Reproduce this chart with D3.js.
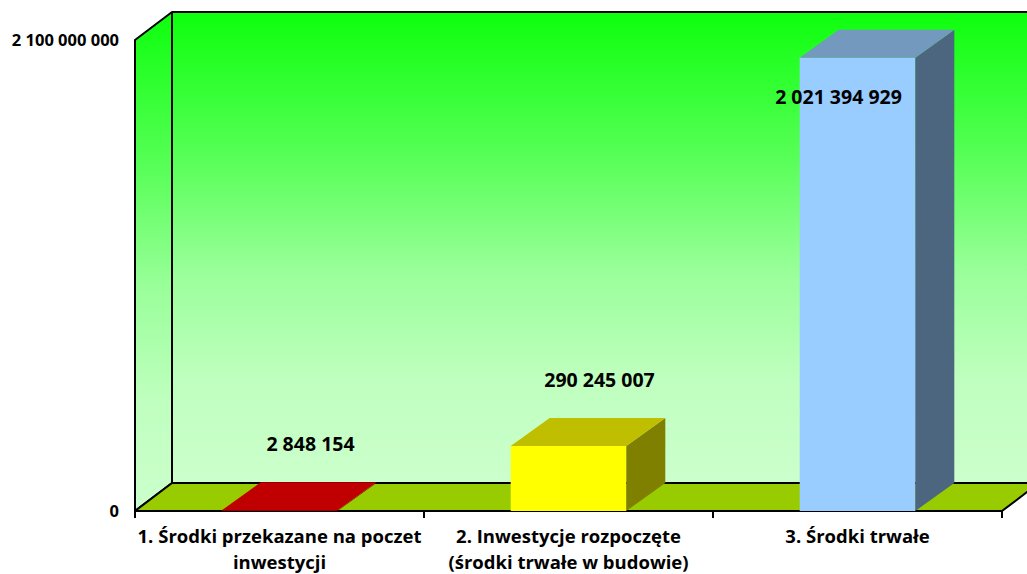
<!DOCTYPE html>
<html>
<head>
<meta charset="utf-8">
<script src="https://cdn.jsdelivr.net/npm/d3@7"></script>
<style>
  html, body { margin: 0; padding: 0; background: #fff; }
  svg { display: block; font-family: "Open Sans", sans-serif; font-weight: bold; }
</style>
</head>
<body>
<div id="chart"></div>
<script>
// Data
const categories = [
  "1. Środki przekazane na poczet inwestycji",
  "2. Inwestycje rozpoczęte (środki trwałe w budowie)",
  "3. Środki trwałe"
];
const categoryLines = [
  ["1. Środki przekazane na poczet", "inwestycji"],
  ["2. Inwestycje rozpoczęte", "(środki trwałe w budowie)"],
  ["3. Środki trwałe"]
];
const values = [2848154, 290245007, 2021394929];
const yTicks = [0, 2100000000];
const yMax = 2100000000;

// Colours: front, top, side
const barColors = [
  { front: "#c00000", top: "#c00000", side: "#800000" },
  { front: "#ffff00", top: "#bfbf00", side: "#808000" },
  { front: "#99ccff", top: "#7399bf", side: "#4c6680" }
];

const width = 1027;
const height = 574;

// front plane of the plot
const plotLeft = 135, plotRight = 1002, plotBottom = 511, plotTop = 40;
// depth of the walls and of the bars
const wallDx = 37, wallDy = -28;
const barDx = 39, barDy = -28;

const fmt = d3.formatLocale({ decimal: ",", thousands: " ", grouping: [3] }).format(",d");

const svg = d3.select("#chart")
  .append("svg")
  .attr("width", width)
  .attr("height", height);

const x = d3.scaleBand()
  .domain(categories)
  .range([plotLeft, plotRight])
  .paddingInner(0)
  .paddingOuter(0);

const y = d3.scaleLinear()
  .domain([0, yMax])
  .range([plotBottom, plotTop]);

const barW = x.bandwidth() * 0.4;

// Gradient for the walls
const defs = svg.append("defs");
const grad = defs.append("linearGradient")
  .attr("id", "wallGrad")
  .attr("x1", 0).attr("y1", 0).attr("x2", 0).attr("y2", 1);
[[0, "#0dff0d"], [0.3, "#55ff55"], [0.55, "#99ff99"], [0.78, "#bfffbf"], [1, "#ccffcc"]]
  .forEach(([o, c]) => grad.append("stop").attr("offset", o).attr("stop-color", c));

const line = d3.line();

// Back wall
svg.append("rect")
  .attr("x", plotLeft + wallDx)
  .attr("y", plotTop + wallDy)
  .attr("width", plotRight - plotLeft + 10)
  .attr("height", plotBottom - plotTop)
  .attr("fill", "url(#wallGrad)");

// Left wall
svg.append("path")
  .attr("d", line([[plotLeft, plotTop], [plotLeft + wallDx, plotTop + wallDy], [plotLeft + wallDx, plotBottom + wallDy], [plotLeft, plotBottom]]) + "Z")
  .attr("fill", "url(#wallGrad)")
  .attr("stroke", "#000")
  .attr("stroke-width", 2)
  .attr("stroke-linejoin", "round");

// Floor
svg.append("path")
  .attr("d", line([[plotLeft, plotBottom], [plotLeft + wallDx, plotBottom + wallDy], [plotRight + wallDx, plotBottom + wallDy], [plotRight, plotBottom]]) + "Z")
  .attr("fill", "#99cc00")
  .attr("stroke", "#000")
  .attr("stroke-width", 2)
  .attr("stroke-linejoin", "round");

// Top edge of back wall
svg.append("line")
  .attr("x1", plotLeft + wallDx).attr("x2", width)
  .attr("y1", plotTop + wallDy).attr("y2", plotTop + wallDy)
  .attr("stroke", "#000")
  .attr("stroke-width", 2);

// Bars
const bars = svg.append("g")
  .selectAll("g")
  .data(values)
  .enter()
  .append("g");

bars.each(function (v, i) {
  const g = d3.select(this);
  const x0 = x(categories[i]) + (x.bandwidth() - barW) / 2;
  const x1 = x0 + barW;
  const yt = y(v);
  const c = barColors[i];
  // front
  g.append("rect")
    .attr("x", x0).attr("y", yt)
    .attr("width", barW).attr("height", Math.max(plotBottom - yt, 0.7))
    .attr("fill", c.front);
  // side
  g.append("path")
    .attr("d", line([[x1, plotBottom], [x1 + barDx, plotBottom + barDy], [x1 + barDx, yt + barDy], [x1, yt]]) + "Z")
    .attr("fill", c.side);
  // top
  g.append("path")
    .attr("d", line([[x0, yt], [x0 + barDx, yt + barDy], [x1 + barDx, yt + barDy], [x1, yt]]) + "Z")
    .attr("fill", c.top);
});

// Value labels
bars.append("text")
  .attr("text-anchor", "middle")
  .attr("dy", "0.35em")
  .style("font-size", "19.5px")
  .attr("x", (v, i) => {
    const cx = x(categories[i]) + x.bandwidth() / 2;
    return y(v) - 65 < plotTop ? cx - 19 : cx + 31;
  })
  .attr("y", v => (y(v) - 65 < plotTop ? y(v) + 40 : y(v) - 66))
  .text(v => fmt(v));

// X ticks
svg.append("g")
  .selectAll("line")
  .data([plotLeft, ...categories.map(c => x(c) + x.bandwidth())])
  .enter()
  .append("line")
  .attr("x1", d => d).attr("x2", d => d)
  .attr("y1", plotBottom).attr("y2", plotBottom + 7)
  .attr("stroke", "#000")
  .attr("stroke-width", 2);

// Category labels
const cat = svg.append("g")
  .selectAll("text")
  .data(categories)
  .enter()
  .append("text")
  .attr("text-anchor", "middle")
  .style("font-size", "18.5px")
  .attr("x", d => x(d) + x.bandwidth() / 2)
  .attr("y", 537);

cat.selectAll("tspan")
  .data((d, i) => categoryLines[i])
  .enter()
  .append("tspan")
  .attr("x", function () { return d3.select(this.parentNode).attr("x"); })
  .attr("dy", (d, j) => j === 0 ? "0.35em" : "26px")
  .text(d => d);

// Y tick labels
svg.append("g")
  .selectAll("text")
  .data(yTicks)
  .enter()
  .append("text")
  .attr("text-anchor", "end")
  .attr("x", 119)
  .attr("y", d => y(d))
  .attr("dy", "0.35em")
  .style("font-size", "16.5px")
  .text(d => fmt(d));
</script>
</body>
</html>
